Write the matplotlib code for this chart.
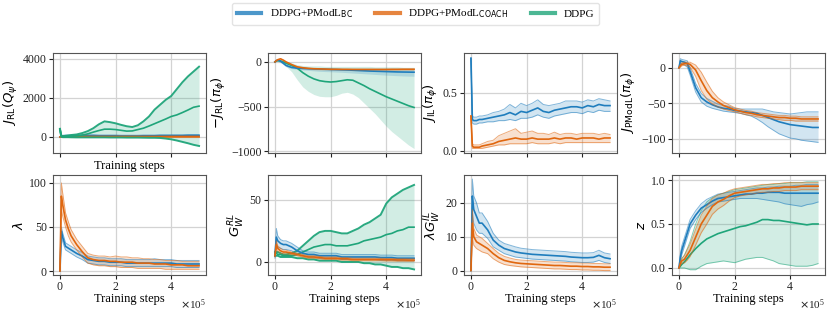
import numpy as np
import matplotlib
matplotlib.use("Agg")
from matplotlib import pyplot as plt
from matplotlib.lines import Line2D

# training steps (x 1e5)
steps = [0, 0.05, 0.1, 0.2, 0.3, 0.4, 0.6, 0.8, 1.0, 1.2, 1.4, 1.6, 1.8, 2.0, 2.2,
         2.4, 2.6, 2.8, 3.0, 3.2, 3.4, 3.6, 3.8, 4.0, 4.2, 4.4, 4.6, 4.8, 5.0]

labels = ["DDPG+PModL$_{\\rm BC}$", "DDPG+PModL$_{\\rm COACH}$", "DDPG"]
colors = ["#1f7dbd", "#e0670f", "#1fa57a"]

# ---- J_RL(Q_psi)
q_bc = [0, 40, 50, 60, 60, 60, 60, 70, 70, 70, 60, 60, 60, 60, 50, 50, 50, 50, 60, 60, 60, 70, 70, 70, 70, 70, 80, 80, 80]
q_bc_lo = [0, 0, 10, 20, 20, 20, 20, 30, 30, 30, 20, 20, 20, 20, 10, 10, 10, 10, 20, 20, 20, 30, 30, 30, 30, 30, 40, 40, 40]
q_bc_hi = [0, 80, 90, 100, 100, 100, 100, 110, 110, 110, 100, 100, 100, 100, 90, 90, 90, 90, 100, 100, 100, 110, 110, 110, 110, 110, 120, 120, 120]
q_co = [0, 20, 20, 20, 20, 20, 20, 20, 20, 20, 20, 20, 20, 20, 20, 20, 20, 20, 20, 20, 20, 20, 20, 20, 20, 20, 20, 20, 20]
q_co_lo = [0, 0, 0, 0, 0, 0, 0, 0, 0, 0, 0, 0, 0, 0, 0, 0, 0, 0, 0, 0, 0, 0, 0, 0, 0, 0, 0, 0, 0]
q_co_hi = [0, 40, 40, 40, 40, 40, 40, 40, 40, 40, 40, 40, 40, 40, 40, 40, 40, 40, 40, 40, 40, 40, 40, 40, 40, 40, 40, 40, 40]
q_dd = [400, 30, 10, 20, 30, 40, 60, 100, 160, 250, 330, 400, 400, 380, 340, 300, 310, 380, 450, 560, 680, 800, 920, 1050, 1130, 1250, 1380, 1520, 1580]
q_dd_lo = [380, 10, -10, -10, -10, -15, -20, -20, -20, -20, -20, -20, -25, -25, -25, -30, -30, -30, -35, -40, -40, -50, -80, -120, -180, -250, -320, -400, -460]
q_dd_hi = [420, 60, 40, 60, 80, 100, 130, 200, 300, 450, 650, 800, 760, 700, 620, 550, 510, 600, 800, 1050, 1400, 1650, 1900, 2100, 2450, 2800, 3100, 3350, 3600]

# ---- -J_RL(pi_phi)
p_bc = [0, 15, 20, 10, -15, -40, -62, -70, -73, -76, -78, -80, -82, -84, -86, -88, -90, -93, -96, -99, -102, -104, -106, -108, -110, -112, -113, -114, -115]
p_bc_lo = [0, 10, 10, -5, -30, -55, -75, -85, -90, -95, -100, -105, -108, -110, -113, -116, -120, -124, -128, -132, -136, -140, -144, -148, -151, -154, -157, -159, -160]
p_bc_hi = [0, 20, 30, 25, 0, -25, -50, -58, -60, -62, -63, -65, -66, -67, -68, -68, -69, -69, -70, -70, -70, -70, -70, -70, -70, -70, -70, -70, -70]
p_co = [0, 15, 25, 35, 20, 0, -30, -55, -65, -72, -76, -78, -80, -82, -82, -83, -83, -84, -84, -84, -84, -84, -84, -84, -83, -83, -82, -82, -82]
p_co_lo = [0, 5, 12, 22, 5, -15, -45, -68, -78, -84, -88, -90, -92, -94, -95, -96, -96, -97, -97, -97, -97, -97, -97, -97, -96, -96, -95, -95, -95]
p_co_hi = [0, 25, 38, 45, 32, 12, -18, -44, -54, -61, -65, -67, -69, -71, -71, -72, -72, -73, -73, -73, -73, -73, -73, -73, -72, -72, -71, -71, -71]
p_dd = [0, 10, 15, 10, 0, -15, -40, -70, -120, -160, -190, -210, -220, -225, -220, -210, -200, -205, -235, -265, -300, -330, -360, -390, -415, -440, -465, -490, -510]
p_dd_lo = [0, 5, 5, -10, -25, -50, -110, -200, -280, -330, -365, -385, -390, -390, -375, -350, -340, -360, -400, -460, -520, -580, -650, -720, -780, -830, -880, -930, -970]
p_dd_hi = [0, 20, 25, 25, 20, 10, -10, -30, -40, -45, -45, -45, -50, -50, -50, -50, -50, -50, -50, -50, -50, -55, -55, -55, -55, -55, -60, -60, -60]

# ---- J_IL(pi_phi)
il_bc = [0.80, 0.27, 0.26, 0.26, 0.27, 0.27, 0.28, 0.29, 0.30, 0.31, 0.33, 0.31, 0.34, 0.33, 0.35, 0.37, 0.34, 0.33, 0.35, 0.36, 0.37, 0.38, 0.38, 0.37, 0.39, 0.38, 0.40, 0.39, 0.39]
il_bc_lo = [0.80, 0.24, 0.23, 0.23, 0.24, 0.24, 0.25, 0.25, 0.26, 0.26, 0.27, 0.26, 0.28, 0.28, 0.29, 0.31, 0.29, 0.28, 0.30, 0.31, 0.32, 0.33, 0.33, 0.32, 0.34, 0.33, 0.35, 0.34, 0.34]
il_bc_hi = [0.80, 0.30, 0.29, 0.29, 0.30, 0.30, 0.31, 0.33, 0.34, 0.36, 0.40, 0.37, 0.41, 0.39, 0.41, 0.44, 0.40, 0.39, 0.40, 0.41, 0.43, 0.43, 0.43, 0.42, 0.44, 0.43, 0.45, 0.44, 0.43]
il_co = [0.30, 0.04, 0.03, 0.03, 0.03, 0.04, 0.05, 0.06, 0.08, 0.09, 0.10, 0.11, 0.10, 0.10, 0.11, 0.10, 0.10, 0.10, 0.11, 0.10, 0.11, 0.11, 0.10, 0.11, 0.11, 0.11, 0.10, 0.11, 0.11]
il_co_lo = [0.30, 0.02, 0.02, 0.02, 0.02, 0.02, 0.03, 0.04, 0.05, 0.05, 0.06, 0.06, 0.06, 0.06, 0.07, 0.06, 0.06, 0.06, 0.07, 0.06, 0.07, 0.07, 0.07, 0.07, 0.07, 0.07, 0.07, 0.07, 0.07]
il_co_hi = [0.30, 0.06, 0.05, 0.05, 0.05, 0.06, 0.08, 0.09, 0.13, 0.15, 0.17, 0.19, 0.15, 0.16, 0.17, 0.15, 0.15, 0.14, 0.16, 0.14, 0.15, 0.15, 0.14, 0.15, 0.15, 0.15, 0.14, 0.15, 0.14]

# ---- J_PModL(pi_phi)
pm_bc = [0, 10, 9, 8, 6, -5, -28, -42, -48, -52, -55, -57, -58, -60, -61, -62, -63, -64, -67, -70, -73, -76, -78, -80, -81, -82, -83, -84, -84]
pm_bc_lo = [0, 7, 6, 4, 1, -10, -34, -48, -54, -57, -59, -61, -62, -63, -64, -66, -68, -72, -77, -83, -88, -93, -96, -99, -100, -102, -103, -104, -105]
pm_bc_hi = [0, 13, 12, 11, 10, 0, -22, -36, -43, -47, -51, -53, -54, -57, -58, -58, -58, -58, -58, -60, -62, -63, -64, -65, -64, -63, -62, -62, -62]
pm_co = [0, 3, 5, 6, 6, 5, -3, -18, -32, -42, -48, -53, -56, -59, -61, -63, -64, -66, -67, -68, -69, -70, -70, -71, -71, -72, -72, -72, -72]
pm_co_lo = [0, 1, 3, 4, 3, 1, -12, -32, -44, -51, -55, -58, -60, -62, -64, -66, -67, -69, -70, -71, -72, -73, -74, -74, -75, -75, -75, -75, -75]
pm_co_hi = [0, 5, 7, 8, 8, 8, 4, -6, -20, -33, -42, -48, -52, -56, -58, -60, -61, -63, -64, -65, -66, -67, -67, -68, -68, -69, -69, -69, -69]

# ---- lambda
lam_bc = [0, 45, 38, 28, 26, 24, 20, 17, 13, 12, 11, 11, 10, 10, 10, 9, 9, 9, 9, 9, 9, 9, 9, 9, 8, 8, 8, 8, 8]
lam_bc_lo = [0, 40, 33, 24, 22, 20, 16, 13, 9, 8, 7, 7, 6, 6, 6, 5, 5, 5, 5, 5, 5, 5, 5, 5, 4, 4, 4, 4, 4]
lam_bc_hi = [0, 50, 43, 32, 30, 28, 24, 21, 17, 16, 15, 15, 14, 14, 14, 13, 13, 13, 13, 13, 14, 13, 13, 13, 12, 12, 12, 12, 12]
lam_co = [0, 85, 75, 58, 48, 40, 30, 22, 15, 13, 12, 12, 11, 11, 10, 10, 10, 9, 9, 9, 8, 8, 8, 7, 7, 7, 6, 6, 6]
lam_co_lo = [0, 70, 62, 50, 40, 33, 24, 16, 9, 7, 6, 6, 5, 5, 4, 4, 4, 3, 3, 3, 3, 3, 2, 2, 2, 2, 2, 2, 2]
lam_co_hi = [0, 100, 88, 66, 56, 47, 36, 28, 20, 18, 17, 17, 16, 17, 16, 16, 15, 15, 14, 14, 13, 13, 12, 12, 12, 11, 11, 11, 11]

# ---- G_W^RL
grl_bc = [5, 20, 17, 15, 14, 14, 12, 9, 7, 6, 6, 5, 5, 5, 5, 4, 4, 4, 4, 4, 4, 4, 3.5, 3.5, 3.5, 3, 3, 3, 3]
grl_bc_lo = [3, 14, 12, 11, 10, 10, 9, 6, 5, 4, 4, 3, 3, 3, 3, 2, 2, 2, 2, 2, 2, 2, 1.5, 1.5, 1.5, 1, 1, 1, 1]
grl_bc_hi = [7, 27, 21, 18, 17, 17, 15, 12, 9, 8, 8, 7, 7, 7, 7, 6, 6, 6, 6, 6, 6, 6, 5.5, 5.5, 5.5, 5, 5, 5, 5]
grl_co = [5, 14, 11, 9, 8, 8, 7, 6, 5, 4, 4, 3.5, 3, 3, 3, 2.5, 2.5, 2, 2, 2, 2, 2, 2, 1.8, 1.8, 1.6, 1.6, 1.5, 1.5]
grl_co_lo = [4, 11, 9, 7, 6.5, 6.5, 6, 5, 4, 3, 3, 2.5, 2, 2, 2, 1.5, 1.5, 1, 1, 1, 1, 1, 1, 0.8, 0.8, 0.6, 0.6, 0.5, 0.5]
grl_co_hi = [6, 17, 13, 11, 9.5, 9.5, 8, 7, 6, 5, 5, 4.5, 4, 4, 4, 3.5, 3.5, 3, 3, 3, 3, 3, 3, 2.8, 2.8, 2.6, 2.6, 2.5, 2.5]
grl_dd = [7, 7, 6, 6, 5, 5, 5, 6, 8, 10, 12, 13, 14, 14, 13, 13, 13, 14, 15, 17, 18, 19, 20, 22, 23, 25, 26, 28, 28]
grl_dd_lo = [5, 5, 5, 4, 4, 4, 4, 3, 3, 2, 2, 1, 1, 1, 1, 0, 0, 0, 0, -1, -1, -2, -2, -3, -4, -4, -5, -5, -6]
grl_dd_hi = [8, 8, 8, 7, 6, 6, 7, 9, 13, 17, 21, 24, 25, 25, 24, 23, 23, 25, 27, 30, 32, 35, 38, 47, 52, 55, 58, 60, 62]

# ---- lambda G_W^IL
gil_bc = [0, 22, 18, 16, 14, 14, 12, 9, 7.5, 6.5, 6, 5.5, 5.2, 5, 4.8, 4.7, 4.6, 4.5, 4.4, 4.3, 4.2, 4, 3.9, 3.8, 3.8, 3.9, 4.5, 3.8, 3.5]
gil_bc_lo = [0, 17, 14, 12, 11, 11, 9.5, 7, 6, 5, 4.5, 4, 3.8, 3.6, 3.4, 3.3, 3.2, 3.1, 3, 2.9, 2.8, 2.6, 2.5, 2.4, 2.4, 2.5, 3, 2.4, 2.1]
gil_bc_hi = [0, 27, 22, 20, 17, 17, 14.5, 11, 9, 8, 7.5, 7, 6.6, 6.4, 6.2, 6.1, 6, 5.9, 5.8, 5.7, 5.6, 5.4, 5.3, 5.2, 5.2, 5.3, 6, 5.2, 4.9]
gil_co = [0, 14, 10, 8.5, 8, 7.5, 6.5, 5, 3.8, 3, 2.6, 2.3, 2.1, 2, 1.9, 1.8, 1.7, 1.6, 1.5, 1.5, 1.4, 1.3, 1.3, 1.2, 1.2, 1.1, 1.1, 1, 1]
gil_co_lo = [0, 10, 7.5, 6.5, 6, 5.5, 5, 3.5, 2.5, 1.8, 1.5, 1.3, 1.1, 1, 0.9, 0.8, 0.7, 0.6, 0.5, 0.5, 0.4, 0.3, 0.3, 0.2, 0.2, 0.1, 0.1, 0, 0]
gil_co_hi = [0, 18, 12.5, 10.5, 10, 9.5, 8, 6.5, 5.1, 4.2, 3.7, 3.3, 3.1, 3, 2.9, 2.8, 2.7, 2.6, 2.5, 2.5, 2.4, 2.3, 2.3, 2.2, 2.2, 2.1, 2.1, 2, 2]

# ---- z
z_bc = [0, 0.12, 0.2, 0.3, 0.4, 0.5, 0.6, 0.68, 0.72, 0.76, 0.79, 0.8, 0.81, 0.82, 0.83, 0.84, 0.84, 0.85, 0.85, 0.86, 0.86, 0.86, 0.85, 0.85, 0.85, 0.85, 0.85, 0.85, 0.85]
z_bc_lo = [0, 0.08, 0.15, 0.25, 0.35, 0.45, 0.55, 0.63, 0.68, 0.72, 0.75, 0.76, 0.77, 0.78, 0.79, 0.79, 0.79, 0.79, 0.78, 0.77, 0.76, 0.75, 0.73, 0.72, 0.71, 0.7, 0.72, 0.73, 0.75]
z_bc_hi = [0, 0.16, 0.25, 0.35, 0.45, 0.55, 0.65, 0.73, 0.78, 0.81, 0.84, 0.85, 0.86, 0.87, 0.88, 0.89, 0.9, 0.91, 0.91, 0.92, 0.92, 0.93, 0.93, 0.93, 0.94, 0.94, 0.95, 0.95, 0.95]
z_co = [0, 0.05, 0.08, 0.1, 0.15, 0.2, 0.35, 0.5, 0.6, 0.7, 0.75, 0.78, 0.82, 0.85, 0.86, 0.87, 0.88, 0.89, 0.9, 0.9, 0.91, 0.91, 0.92, 0.92, 0.92, 0.93, 0.93, 0.93, 0.93]
z_co_lo = [0, 0.03, 0.05, 0.06, 0.09, 0.13, 0.26, 0.4, 0.5, 0.61, 0.67, 0.71, 0.76, 0.8, 0.82, 0.83, 0.84, 0.85, 0.86, 0.86, 0.87, 0.87, 0.88, 0.88, 0.88, 0.89, 0.89, 0.89, 0.89]
z_co_hi = [0, 0.07, 0.11, 0.14, 0.21, 0.27, 0.44, 0.6, 0.7, 0.79, 0.83, 0.85, 0.88, 0.9, 0.91, 0.92, 0.93, 0.94, 0.95, 0.95, 0.96, 0.96, 0.97, 0.97, 0.97, 0.97, 0.97, 0.97, 0.97]
z_dd = [0, 0.02, 0.04, 0.07, 0.11, 0.15, 0.22, 0.28, 0.33, 0.36, 0.39, 0.41, 0.43, 0.45, 0.47, 0.48, 0.5, 0.52, 0.55, 0.55, 0.54, 0.54, 0.53, 0.52, 0.51, 0.5, 0.49, 0.5, 0.5]
z_dd_lo = [0, 0, 0, 0, -0.01, -0.02, -0.02, 0.02, 0.05, 0.06, 0.07, 0.08, 0.07, 0.06, 0.08, 0.1, 0.11, 0.12, 0.12, 0.1, 0.08, 0.05, 0.04, 0.03, 0.02, 0.02, 0.02, 0.03, 0.05]
z_dd_hi = [0, 0.05, 0.1, 0.15, 0.22, 0.3, 0.5, 0.65, 0.75, 0.8, 0.83, 0.85, 0.87, 0.89, 0.9, 0.91, 0.92, 0.93, 0.94, 0.95, 0.95, 0.96, 0.96, 0.97, 0.97, 0.97, 0.98, 0.98, 0.98]

plt.rcParams["font.family"] = ["Liberation Serif", "DejaVu Serif"]
plt.rcParams["font.size"] = 8
plt.rcParams["mathtext.fontset"] = "dejavusans"

x = np.array(steps) * 1e5


def band(ax, mean, lo, hi, c, edge_lw=0.7, edge_alpha=0.55):
    ax.fill_between(x, lo, hi, color=c, alpha=0.2, lw=0)
    if edge_lw > 0:
        ax.plot(x, lo, color=c, lw=edge_lw, alpha=edge_alpha)
        ax.plot(x, hi, color=c, lw=edge_lw, alpha=edge_alpha)
    ax.plot(x, mean, color=c, lw=1.2)


panels = [
    ("$J_{\\rm RL}(Q_\\psi)$", [(q_bc, q_bc_lo, q_bc_hi, 0), (q_co, q_co_lo, q_co_hi, 1), (q_dd, q_dd_lo, q_dd_hi, 2)], (-820, 4300), [0, 2000, 4000]),
    ("$-J_{\\rm RL}(\\pi_\\phi)$", [(p_dd, p_dd_lo, p_dd_hi, 2), (p_bc, p_bc_lo, p_bc_hi, 0), (p_co, p_co_lo, p_co_hi, 1)], (-1020, 100), [-1000, -500, 0]),
    ("$J_{\\rm IL}(\\pi_\\phi)$", [(il_bc, il_bc_lo, il_bc_hi, 0), (il_co, il_co_lo, il_co_hi, 1)], (-0.02, 0.845), [0.0, 0.5]),
    ("$J_{\\rm PModL}(\\pi_\\phi)$", [(pm_bc, pm_bc_lo, pm_bc_hi, 0), (pm_co, pm_co_lo, pm_co_hi, 1)], (-120, 21), [-100, -50, 0]),
    ("$\\lambda$", [(lam_bc, lam_bc_lo, lam_bc_hi, 0), (lam_co, lam_co_lo, lam_co_hi, 1)], (-4.5, 109), [0, 50, 100]),
    ("$G_W^{RL}$", [(grl_dd, grl_dd_lo, grl_dd_hi, 2), (grl_bc, grl_bc_lo, grl_bc_hi, 0), (grl_co, grl_co_lo, grl_co_hi, 1)], (-10.5, 70), [0, 50]),
    ("$\\lambda G_W^{IL}$", [(gil_bc, gil_bc_lo, gil_bc_hi, 0), (gil_co, gil_co_lo, gil_co_hi, 1)], (-1.3, 28.2), [0, 10, 20]),
    ("$z$", [(z_dd, z_dd_lo, z_dd_hi, 2), (z_bc, z_bc_lo, z_bc_hi, 0), (z_co, z_co_lo, z_co_hi, 1)], (-0.08, 1.057), [0.0, 0.5, 1.0]),
]

W, H = 831, 312
fig = plt.figure(figsize=(W / 100, H / 100), dpi=100)
lefts = [53, 268, 464, 672]
tops = [53, 175]
aw, ah = 153, 100

for k, (ylab, series, ylim, yticks) in enumerate(panels):
    r, c = divmod(k, 4)
    ax = fig.add_axes([lefts[c] / W, 1 - (tops[r] + ah) / H, aw / W, ah / H])
    for mean, lo, hi, ci in series:
        if ci == 2 and k in (0, 5):
            band(ax, mean, lo, hi, colors[ci], edge_lw=1.4, edge_alpha=0.95)
        elif k == 1:
            band(ax, mean, lo, hi, colors[ci], edge_lw=0)
        else:
            band(ax, mean, lo, hi, colors[ci])
    ax.set_xlim(-0.25e5, 5.25e5)
    ax.set_ylim(*ylim)
    ax.set_yticks(yticks)
    ax.set_xticks([0, 2e5, 4e5])
    ax.grid(True, color="#d3d3d3", lw=0.9)
    ax.set_axisbelow(True)
    for s in ax.spines.values():
        s.set_color("#555555")
    ax.tick_params(colors="#222222", length=3, width=0.8, pad=1.5, labelsize=8.5)
    ax.set_ylabel(ylab, fontsize=9.5, labelpad=2)
    if r == 0:
        ax.tick_params(labelbottom=False)
        if c == 0:
            ax.set_xlabel("Training steps", fontsize=9, labelpad=2)
    else:
        ax.ticklabel_format(axis="x", style="sci", scilimits=(0, 0), useMathText=True)
        ax.set_xlabel("Training steps", fontsize=9, labelpad=0)

handles = [Line2D([], [], color=colors[i], lw=3, alpha=0.8, label=labels[i]) for i in range(3)]
fig.legend(handles=handles, loc="center", bbox_to_anchor=(0.5, 0.955), ncol=3,
           fontsize=8, frameon=True, edgecolor="#dddddd", handlelength=2.2,
           columnspacing=2.0, borderpad=0.4)

fig.savefig("out.png", dpi=100)
